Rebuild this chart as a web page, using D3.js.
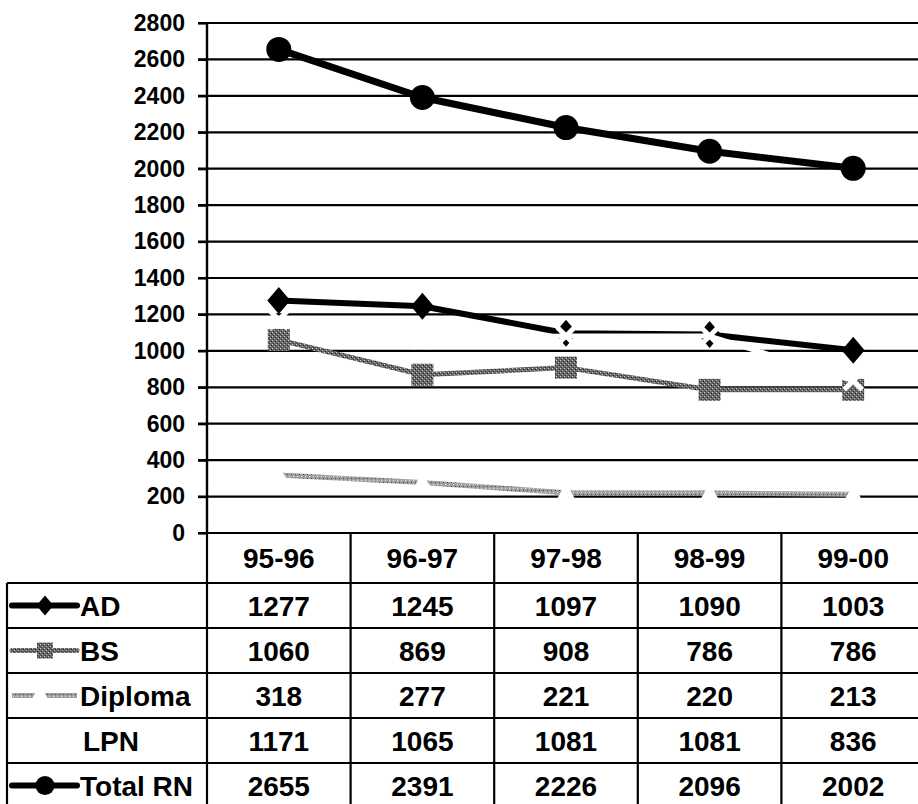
<!DOCTYPE html>
<html>
<head>
<meta charset="utf-8">
<script src="https://cdn.jsdelivr.net/npm/d3@7"></script>
<style>
  html, body { margin: 0; padding: 0; background: #fff; }
  svg { display: block; }
  text { font-family: "Liberation Sans", Arial, sans-serif; font-weight: bold; fill: #000; }
</style>
</head>
<body>
<svg id="chart" width="918" height="804"></svg>
<script>
// Enrollment by program, academic years 1995-96 through 1999-00
const years = ["95-96", "96-97", "97-98", "98-99", "99-00"];
const seriesNames = ["AD", "BS", "Diploma", "LPN", "Total RN"];
const adValues = [1277, 1245, 1097, 1090, 1003];
const bsValues = [1060, 869, 908, 786, 786];
const diplomaValues = [318, 277, 221, 220, 213];
const lpnValues = [1171, 1065, 1081, 1081, 836];
const totalRnValues = [2655, 2391, 2226, 2096, 2002];
const yTicks = [0, 200, 400, 600, 800, 1000, 1200, 1400, 1600, 1800, 2000, 2200, 2400, 2600, 2800];

const seriesValues = [adValues, bsValues, diplomaValues, lpnValues, totalRnValues];

const svg = d3.select("#chart");
const W = 918;

const plotLeft = 207, plotTop = 23, plotBottom = 533;
const x = d3.scaleBand().domain(years).range([plotLeft, 925]).padding(0);
const y = d3.scaleLinear().domain([0, 2800]).range([plotBottom, plotTop]);
const cx = d => x(d) + x.bandwidth() / 2;

// Textures for the grey series
const defs = svg.append("defs");
const bsPat = defs.append("pattern").attr("id", "bsTex").attr("patternUnits", "userSpaceOnUse")
  .attr("width", 4).attr("height", 4);
bsPat.append("rect").attr("width", 4).attr("height", 4).attr("fill", "#666");
bsPat.append("rect").attr("x", 0).attr("y", 0).attr("width", 1).attr("height", 1).attr("fill", "#d0d0d0");
bsPat.append("rect").attr("x", 2).attr("y", 2).attr("width", 1).attr("height", 1).attr("fill", "#bbb");
bsPat.append("rect").attr("x", 3).attr("y", 1).attr("width", 1).attr("height", 1).attr("fill", "#222");
bsPat.append("rect").attr("x", 1).attr("y", 3).attr("width", 1).attr("height", 1).attr("fill", "#333");

const dipPat = defs.append("pattern").attr("id", "dipTex").attr("patternUnits", "userSpaceOnUse")
  .attr("width", 4).attr("height", 4);
dipPat.append("rect").attr("width", 4).attr("height", 4).attr("fill", "#a0a0a0");
dipPat.append("rect").attr("x", 1).attr("y", 0).attr("width", 1).attr("height", 1).attr("fill", "#e6e6e6");
dipPat.append("rect").attr("x", 3).attr("y", 2).attr("width", 1).attr("height", 1).attr("fill", "#444");

// Gridlines
svg.append("g").selectAll("line").data(yTicks).join("line")
  .attr("x1", plotLeft - 9).attr("x2", W)
  .attr("y1", d => y(d)).attr("y2", d => y(d))
  .attr("stroke", "#000").attr("stroke-width", 2.2);

// Value axis
const yAxis = d3.axisLeft(y).tickValues(yTicks).tickFormat(d3.format("d")).tickSize(9).tickPadding(13);
const gy = svg.append("g").attr("transform", `translate(${plotLeft},0)`).call(yAxis);
gy.select(".domain").remove();
gy.selectAll(".tick line").attr("stroke", "#000").attr("stroke-width", 2.2);
gy.selectAll(".tick text").style("font-size", "23px").style("font-weight", "bold")
  .style("font-family", "'Liberation Sans', Arial, sans-serif").attr("fill", "#000");

// Data table under the plot
const rowTop = 583, rowH = 45, tableLeft = 7;
const rowY = i => rowTop + i * rowH;
const tbl = svg.append("g");

// header row (category labels)
tbl.selectAll("text.cat").data(years).join("text").attr("class", "cat")
  .attr("x", d => cx(d)).attr("y", (plotBottom + rowTop) / 2 + 10)
  .attr("text-anchor", "middle").style("font-size", "28px").text(d => d);

// horizontal rules
tbl.selectAll("line.h").data(d3.range(seriesNames.length + 1)).join("line").attr("class", "h")
  .attr("x1", tableLeft).attr("x2", W)
  .attr("y1", i => rowY(i)).attr("y2", i => rowY(i))
  .attr("stroke", "#000").attr("stroke-width", 2.2);

// vertical rules
tbl.selectAll("line.v").data(years).join("line").attr("class", "v")
  .attr("x1", d => x(d)).attr("x2", d => x(d))
  .attr("y1", plotBottom).attr("y2", 820)
  .attr("stroke", "#000").attr("stroke-width", 2.2);
tbl.append("line").attr("x1", tableLeft).attr("x2", tableLeft)
  .attr("y1", rowTop).attr("y2", 820).attr("stroke", "#000").attr("stroke-width", 2.2);

// axis line
svg.append("line").attr("x1", plotLeft).attr("x2", plotLeft).attr("y1", plotTop).attr("y2", plotBottom)
  .attr("stroke", "#000").attr("stroke-width", 2.4);

// values in the table
seriesValues.forEach((vals, si) => {
  tbl.selectAll(`text.v${si}`).data(vals).join("text").attr("class", `v${si}`)
    .attr("x", (d, i) => cx(years[i])).attr("y", rowY(si) + rowH / 2 + 10)
    .attr("text-anchor", "middle").style("font-size", "28px").text(d => d);
});

// series labels
tbl.selectAll("text.lbl").data(seriesNames).join("text").attr("class", "lbl")
  .attr("x", (d, i) => i === 3 ? 83 : 80).attr("y", (d, i) => rowY(i) + rowH / 2 + 10)
  .style("font-size", "28px").text(d => d);

// Marker shapes
const diamond = s => `M0,${-s}L${s * 0.85},0L0,${s}L${-s * 0.85},0Z`;
const triangle = s => `M0,${-s}L${s},${s * 0.8}L${-s},${s * 0.8}Z`;

const line = d3.line().x((d, i) => cx(years[i])).y(d => y(d));
const plot = svg.append("g");

function drawSeries(vals, opt) {
  plot.append("path").datum(vals).attr("d", line)
    .attr("fill", "none").attr("stroke", opt.stroke).attr("stroke-width", opt.width)
    .attr("stroke-linejoin", "round");
  const g = plot.append("g");
  vals.forEach((v, i) => {
    const px = cx(years[i]), py = y(v);
    if (opt.marker === "diamond") {
      g.append("path").attr("d", diamond(13.5)).attr("transform", `translate(${px},${py})`).attr("fill", "#000");
    } else if (opt.marker === "square") {
      g.append("rect").attr("x", px - 11).attr("y", py - 11).attr("width", 22).attr("height", 22)
        .attr("fill", "url(#bsTex)");
    } else if (opt.marker === "triangle") {
      g.append("path").attr("d", triangle(10)).attr("transform", `translate(${px},${py})`).attr("fill", "#fff");
    } else if (opt.marker === "x") {
      g.append("path").attr("d", "M-9,-9L9,9M9,-9L-9,9").attr("transform", `translate(${px},${py})`)
        .attr("stroke", "#fff").attr("stroke-width", 5).attr("fill", "none");
    } else if (opt.marker === "circle") {
      g.append("circle").attr("cx", px).attr("cy", py).attr("r", 12.5).attr("fill", "#000");
    }
  });
}

drawSeries(adValues, { stroke: "#000", width: 6, marker: "diamond" });
drawSeries(bsValues, { stroke: "url(#bsTex)", width: 5, marker: "square" });
drawSeries(diplomaValues, { stroke: "url(#dipTex)", width: 5, marker: "triangle" });
drawSeries(lpnValues, { stroke: "#fff", width: 5, marker: "x" });
drawSeries(totalRnValues, { stroke: "#000", width: 7, marker: "circle" });

// Legend keys inside the table label cells
const keyX1 = 12, keyX2 = 77, keyMid = 45;
const key = svg.append("g");
// AD
const kyAD = rowY(0) + rowH / 2;
key.append("line").attr("x1", keyX1).attr("x2", keyX2).attr("y1", kyAD).attr("y2", kyAD)
  .attr("stroke", "#000").attr("stroke-width", 6).attr("stroke-linecap", "round");
key.append("path").attr("d", diamond(10)).attr("transform", `translate(${keyMid},${kyAD})`).attr("fill", "#000");
// BS
const kyBS = rowY(1) + rowH / 2;
key.append("line").attr("x1", keyX1).attr("x2", keyX2).attr("y1", kyBS).attr("y2", kyBS)
  .attr("stroke", "url(#bsTex)").attr("stroke-width", 5).attr("stroke-linecap", "round");
key.append("rect").attr("x", keyMid - 8).attr("y", kyBS - 8).attr("width", 16).attr("height", 16)
  .attr("fill", "url(#bsTex)");
// Diploma
const kyDip = rowY(2) + rowH / 2;
key.append("line").attr("x1", keyX1).attr("x2", keyX2).attr("y1", kyDip).attr("y2", kyDip)
  .attr("stroke", "url(#dipTex)").attr("stroke-width", 5);
key.append("path").attr("d", triangle(11)).attr("transform", `translate(${keyMid - 5},${kyDip})`).attr("fill", "#fff");
// Total RN
const kyTot = rowY(4) + rowH / 2;
key.append("line").attr("x1", keyX1).attr("x2", keyX2).attr("y1", kyTot).attr("y2", kyTot)
  .attr("stroke", "#000").attr("stroke-width", 6).attr("stroke-linecap", "round");
key.append("circle").attr("cx", keyMid).attr("cy", kyTot).attr("r", 9.5).attr("fill", "#000");
</script>
</body>
</html>
